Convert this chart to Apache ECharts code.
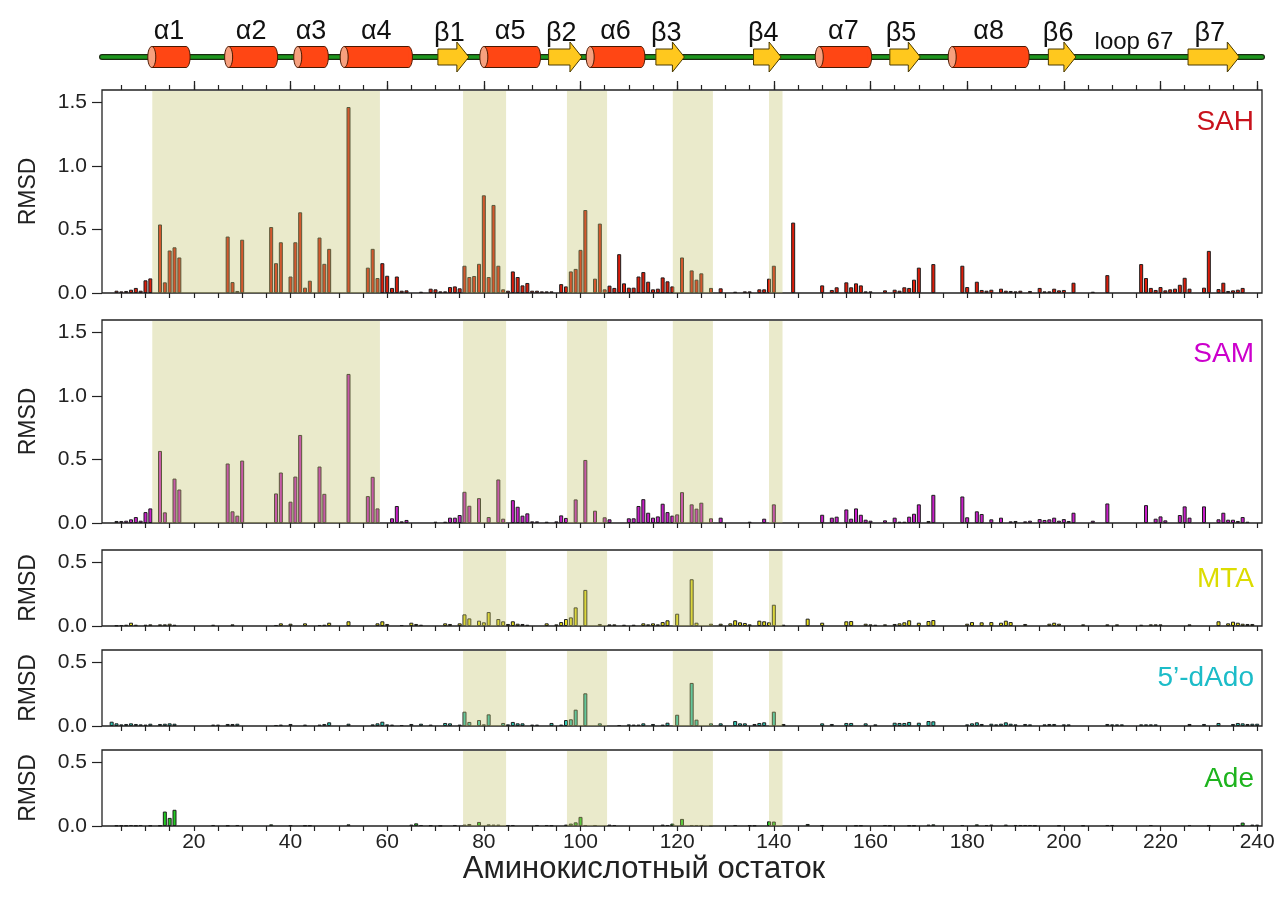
<!DOCTYPE html>
<html>
<head>
<meta charset="utf-8">
<script src="https://cdn.jsdelivr.net/npm/echarts@6/dist/echarts.min.js"></script>
<style>
  html, body { margin: 0; padding: 0; background: #fff; }
  #chart { width: 1284px; height: 905px; }
</style>
</head>
<body>
<div id="chart"></div>
<script>
// residue range shown on the x axis
const resMin = 1
const resMax = 241

// tick marks every 5 residues, labels every 20
const xTicks = [5, 10, 15, 20, 25, 30, 35, 40, 45, 50, 55, 60, 65, 70, 75, 80, 85, 90, 95, 100,
  105, 110, 115, 120, 125, 130, 135, 140, 145, 150, 155, 160, 165, 170, 175, 180, 185, 190, 195, 200,
  205, 210, 215, 220, 225, 230, 235, 240]
const xLabels = [20, 40, 60, 80, 100, 120, 140, 160, 180, 200, 220, 240]
const yTicksBig = [0, 0.5, 1.0, 1.5]
const yTicksSmall = [0, 0.5]

// shaded regions (residue ranges)
const shadeSAH = [[11.4, 58.5], [75.7, 84.6], [97.2, 105.5], [119.1, 127.4], [139, 141.8]]
const shadeOther = [[75.7, 84.6], [97.2, 105.5], [119.1, 127.4], [139, 141.8]]

// secondary structure
const backbone = [[1, 241]]
const helices = [[11.3, 18.4], [27.2, 36.5], [41.5, 47], [51.1, 64.4], [80, 90.9], [102, 112.5], [149.4, 159.4], [176.9, 192]]
const helixNames = ['α1', 'α2', 'α3', 'α4', 'α5', 'α6', 'α7', 'α8']
const strands = [[70.5, 76.9], [93.4, 100.3], [115.6, 121.5], [135.8, 141.5], [164, 170.3], [196.8, 202.5], [225.7, 236.3]]
const strandNames = ['β1', 'β2', 'β3', 'β4', 'β5', 'β6', 'β7']
const loops = [[205, 224]]
const loopNames = ['loop 67']

// RMSD per residue
const sahData = [[4,.018],[5,.013],[6,.016],[7,.026],[8,.04],[9,.018],[10,.10],[11,.115],[13,.54],[14,.084],[15,.335],[16,.36],[17,.28],
  [27,.445],[28,.086],[29,.016],[30,.42],[36,.52],[37,.235],[38,.40],[40,.13],[41,.40],[42,.636],[43,.042],[44,.097],[46,.437],[47,.23],[48,.348],
  [52,1.466],[56,.20],[57,.348],[58,.118],[59,.235],[60,.136],[61,.04],[62,.13],[63,.018],[64,.021],[67,.01],[69,.034],[70,.029],[71,.013],[72,.013],
  [73,.047],[74,.052],[75,.037],[76,.215],[77,.126],[78,.134],[79,.23],[80,.77],[81,.126],[82,.694],[83,.215],[84,.029],[85,.018],[86,.17],[87,.126],
  [88,.06],[89,.079],[90,.018],[91,.018],[92,.013],[93,.013],[94,.013],[96,.07],[97,.052],[98,.17],[99,.19],[100,.34],[101,.654],[103,.113],[104,.547],
  [105,.029],[106,.058],[107,.04],[108,.306],[109,.076],[110,.042],[111,.042],[112,.13],[113,.165],[114,.089],[115,.029],[116,.034],[117,.123],[118,.092],
  [119,.052],[121,.28],[123,.178],[124,.105],[125,.155],[127,.04],[129,.037],[132,.01],[134,.013],[135,.013],[137,.029],[138,.029],[139,.113],[140,.215],
  [144,.555],[150,.06],[152,.024],[153,.045],[155,.084],[156,.045],[157,.076],[158,.06],[159,.013],[160,.013],[163,.021],[165,.026],[166,.018],[167,.045],
  [168,.04],[169,.105],[170,.2],[173,.228],[179,.215],[180,.047],[182,.089],[183,.024],[184,.018],[185,.026],[187,.034],[188,.018],[189,.016],[190,.013],
  [191,.018],[193,.016],[195,.04],[196,.013],[197,.013],[198,.034],[199,.021],[200,.024],[202,.081],[206,.01],[209,.141],[216,.228],[217,.118],[218,.04],
  [219,.024],[220,.047],[221,.021],[222,.029],[223,.034],[224,.065],[225,.12],[226,.034],[229,.042],[230,.332],[232,.031],[233,.081],[234,.016],[235,.021],
  [236,.026],[237,.04]]

const samData = [[4,.016],[5,.016],[6,.018],[7,.029],[8,.047],[9,.018],[10,.086],[11,.115],[13,.568],[14,.084],[16,.35],[17,.264],[27,.469],[28,.092],
  [29,.058],[30,.492],[37,.233],[38,.398],[40,.168],[41,.366],[42,.694],[46,.445],[47,.23],[52,1.175],[56,.212],[57,.364],[58,.115],[61,.037],[62,.134],
  [63,.013],[64,.024],[70,.01],[72,.01],[73,.042],[74,.042],[75,.063],[76,.246],[77,.136],[79,.196],[81,.047],[83,.343],[84,.034],[86,.18],[87,.128],
  [88,.058],[89,.076],[90,.013],[91,.013],[93,.01],[95,.013],[96,.06],[97,.04],[99,.186],[101,.497],[103,.097],[105,.045],[106,.029],[110,.037],[111,.037],
  [112,.134],[113,.188],[114,.081],[115,.042],[116,.052],[117,.152],[118,.086],[119,.058],[120,.068],[121,.243],[123,.147],[124,.113],[125,.16],[127,.037],
  [129,.042],[135,.01],[138,.034],[140,.147],[150,.065],[152,.042],[153,.05],[155,.107],[156,.034],[157,.115],[158,.065],[159,.026],[160,.018],[163,.021],
  [165,.042],[166,.01],[167,.01],[168,.05],[169,.073],[170,.147],[172,.016],[173,.222],[179,.209],[180,.045],[182,.092],[183,.071],[185,.029],[187,.042],
  [189,.013],[190,.016],[192,.013],[193,.018],[195,.031],[196,.024],[197,.029],[198,.042],[199,.018],[200,.031],[201,.016],[202,.081],[206,.018],[209,.154],
  [217,.141],[219,.034],[220,.052],[221,.021],[224,.063],[225,.131],[226,.042],[229,.131],[232,.029],[233,.081],[234,.026],[235,.026],[236,.016],[237,.047],
  [238,.01]]

const mtaData = [[4,.005],[5,.008],[6,.01],[7,.026],[8,.01],[10,.01],[11,.013],[13,.013],[14,.013],[15,.018],[16,.01],[24,.01],[28,.013],[37,.008],
  [38,.021],[40,.018],[43,.021],[46,.008],[47,.01],[48,.026],[52,.037],[58,.021],[59,.037],[60,.016],[63,.008],[65,.026],[66,.016],[67,.01],[72,.021],
  [73,.016],[75,.021],[76,.092],[77,.06],[79,.042],[80,.029],[81,.11],[83,.055],[84,.037],[85,.016],[86,.037],[87,.018],[88,.016],[89,.01],[93,.021],
  [95,.013],[96,.031],[97,.055],[98,.068],[99,.147],[101,.285],[104,.016],[106,.013],[107,.013],[109,.01],[111,.01],[113,.021],[114,.013],[115,.021],
  [116,.013],[117,.031],[118,.045],[120,.097],[123,.369],[124,.026],[127,.018],[129,.018],[131,.021],[132,.045],[133,.029],[134,.024],[135,.013],[137,.042],
  [138,.037],[139,.029],[140,.168],[142,.01],[147,.058],[150,.026],[155,.037],[156,.039],[159,.018],[160,.013],[161,.01],[163,.013],[165,.016],[166,.021],
  [167,.029],[168,.045],[170,.026],[172,.039],[173,.047],[180,.018],[181,.031],[183,.029],[185,.031],[187,.026],[188,.042],[189,.031],[192,.016],[197,.018],
  [198,.026],[199,.018],[204,.013],[209,.013],[211,.013],[216,.01],[218,.013],[219,.013],[220,.013],[226,.013],[232,.037],[234,.021],[235,.034],[236,.026],
  [237,.018],[238,.016],[239,.016]]

const dadoData = [[3,.034],[4,.021],[5,.013],[6,.016],[7,.021],[8,.016],[9,.013],[10,.011],[11,.018],[13,.016],[14,.018],[15,.021],[16,.018],[24,.011],
  [25,.011],[27,.016],[28,.016],[29,.018],[37,.008],[38,.011],[40,.016],[43,.011],[46,.011],[47,.016],[48,.029],[52,.018],[57,.013],[58,.021],[59,.034],
  [60,.013],[61,.011],[63,.008],[65,.016],[67,.018],[69,.011],[72,.024],[73,.021],[75,.011],[76,.113],[77,.032],[79,.047],[80,.013],[81,.092],[84,.024],
  [85,.013],[86,.032],[87,.021],[88,.021],[90,.011],[91,.011],[94,.024],[96,.011],[97,.047],[98,.053],[99,.129],[101,.258],[104,.021],[108,.008],[110,.013],
  [111,.011],[112,.011],[113,.021],[115,.016],[117,.011],[118,.026],[120,.089],[123,.34],[124,.05],[127,.021],[129,.021],[132,.039],[133,.021],[134,.021],
  [136,.016],[137,.024],[138,.029],[140,.113],[142,.016],[150,.021],[152,.016],[155,.024],[156,.024],[159,.021],[161,.013],[165,.026],[166,.024],[167,.024],
  [168,.032],[170,.026],[172,.039],[173,.037],[180,.013],[181,.021],[182,.029],[183,.016],[185,.018],[186,.013],[187,.018],[188,.029],[189,.018],[190,.013],
  [192,.016],[193,.013],[196,.013],[197,.016],[198,.016],[200,.013],[201,.013],[209,.016],[210,.013],[211,.013],[212,.013],[216,.013],[217,.013],[218,.013],
  [219,.013],[226,.016],[229,.016],[232,.024],[235,.016],[236,.024],[237,.021],[238,.016],[239,.018],[240,.018]]

const adeData = [[4,.005],[5,.005],[6,.005],[7,.008],[8,.005],[9,.008],[11,.005],[13,.005],[14,.114],[15,.064],[16,.128],[24,.008],[27,.005],[29,.008],
  [36,.013],[40,.005],[43,.005],[44,.005],[52,.013],[65,.011],[66,.021],[67,.008],[69,.005],[71,.003],[74,.008],[76,.011],[77,.016],[79,.032],[81,.013],
  [82,.011],[83,.011],[85,.008],[86,.008],[91,.008],[93,.008],[94,.005],[97,.011],[98,.019],[99,.029],[100,.072],[101,.008],[103,.008],[106,.011],[107,.008],
  [117,.011],[118,.008],[119,.019],[121,.056],[123,.008],[124,.008],[125,.008],[127,.005],[132,.008],[135,.005],[136,.005],[139,.037],[140,.035],[147,.016],
  [150,.005],[157,.005],[158,.005],[163,.008],[164,.005],[168,.005],[169,.005],[172,.011],[173,.013],[179,.008],[182,.013],[184,.008],[185,.011],[188,.011],
  [190,.008],[191,.008],[192,.008],[193,.008],[194,.005],[199,.005],[204,.005],[209,.008],[210,.008],[218,.008],[226,.008],[230,.005],[236,.005],[237,.027],
  [239,.011],[240,.011]]

const FONT = 'Liberation Sans, Arial, sans-serif'
const INK = '#222'

const panels = [
  { name: 'SAH', data: sahData, color: '#dc1c0a', labelColor: '#c8121c', top: 90, height: 203, max: 1.6, yTicks: yTicksBig, shade: shadeSAH, nameTop: 108 },
  { name: 'SAM', data: samData, color: '#c81ec8', labelColor: '#cc00cc', top: 320, height: 203, max: 1.6, yTicks: yTicksBig, shade: shadeSAH, nameTop: 340 },
  { name: 'MTA', data: mtaData, color: '#e8e01e', labelColor: '#dcdc00', top: 550, height: 76, max: 0.6, yTicks: yTicksSmall, shade: shadeOther, nameTop: 565 },
  { name: '5’-dAdo', data: dadoData, color: '#2ec8b4', labelColor: '#1cbcc8', top: 650, height: 76, max: 0.6, yTicks: yTicksSmall, shade: shadeOther, nameTop: 664 },
  { name: 'Ade', data: adeData, color: '#22cc22', labelColor: '#1eb41e', top: 750, height: 76, max: 0.6, yTicks: yTicksSmall, shade: shadeOther, nameTop: 765 }
]
const STRUCT = panels.length

const grids = []
const xAxes = []
const yAxes = []
const series = []
const titles = []

function renderShade(params, api) {
  const a = api.coord([api.value(0), 0])
  const b = api.coord([api.value(1), 0])
  const cs = params.coordSys
  return {
    type: 'rect',
    shape: { x: a[0], y: cs.y + 1, width: b[0] - a[0], height: cs.height - 1 },
    style: { fill: 'rgba(196,196,110,0.36)' }
  }
}

panels.forEach((p, i) => {
  const last = i === panels.length - 1
  grids.push({ left: 102, width: 1160, top: p.top, height: p.height, show: true, borderColor: INK, borderWidth: 1.3, backgroundColor: 'transparent', outerBoundsMode: 'none' })
  xAxes.push({
    gridIndex: i, type: 'value', min: resMin, max: resMax, position: 'bottom',
    axisLine: { show: false }, splitLine: { show: false },
    axisTick: { show: true, length: 5, customValues: xTicks, lineStyle: { color: INK, width: 1.2 } },
    axisLabel: { show: last, customValues: xLabels, fontSize: 21, fontFamily: FONT, color: INK, margin: 6 },
    name: last ? 'Аминокислотный остаток' : '', nameLocation: 'middle', nameGap: 19,
    nameTextStyle: { fontSize: 31, fontFamily: FONT, color: INK, padding: [0, 76, 0, 0] }
  })
  yAxes.push({
    gridIndex: i, type: 'value', min: 0, max: p.max,
    axisLine: { show: false }, splitLine: { show: false },
    axisTick: { show: true, length: 10, customValues: p.yTicks, lineStyle: { color: INK, width: 1.2 } },
    axisLabel: { customValues: p.yTicks, formatter: v => v.toFixed(1), fontSize: 21, fontFamily: FONT, color: INK, margin: 15 },
    name: 'RMSD', nameLocation: 'middle', nameRotate: 90, nameGap: 62,
    nameTextStyle: { fontSize: 23, fontFamily: FONT, color: INK }
  })
  series.push({
    type: 'bar', name: p.name, xAxisIndex: i, yAxisIndex: i, data: p.data,
    barWidth: 4, z: 2,
    itemStyle: { color: p.color, borderColor: '#1e1e1e', borderWidth: 1 },
    silent: true, animation: false
  })
  series.push({
    type: 'custom', xAxisIndex: i, yAxisIndex: i, data: p.shade, z: 5,
    encode: { x: [0, 1] }, renderItem: renderShade, silent: true, animation: false
  })
  titles.push({
    text: p.name, right: 30, top: p.nameTop, padding: 0,
    textStyle: { color: p.labelColor, fontSize: 28, fontWeight: 'normal', fontFamily: FONT }
  })
})

// top ticks of the SAH panel (long every 20, short every 5)
xAxes.push({
  gridIndex: 0, type: 'value', min: resMin, max: resMax, position: 'top',
  axisLine: { show: false }, splitLine: { show: false }, axisLabel: { show: false },
  axisTick: { show: true, length: 9, customValues: xLabels, lineStyle: { color: INK, width: 1.3 } }
})
xAxes.push({
  gridIndex: 0, type: 'value', min: resMin, max: resMax, position: 'top',
  axisLine: { show: false }, splitLine: { show: false }, axisLabel: { show: false },
  axisTick: { show: true, length: 5, customValues: xTicks, lineStyle: { color: INK, width: 1.2 } }
})
const structX = xAxes.length

// secondary structure strip
grids.push({ left: 102, width: 1160, top: 27, height: 60, show: false, outerBoundsMode: 'none' })
xAxes.push({ gridIndex: STRUCT, type: 'value', min: resMin, max: resMax, show: false })
yAxes.push({ gridIndex: STRUCT, type: 'value', min: 0, max: 1, show: false })

const labelStyle = (text, size) => ({
  text: text, fill: '#111', font: size + 'px ' + FONT,
  align: 'center', verticalAlign: 'bottom', textAlign: 'center', textVerticalAlign: 'bottom'
})

function renderBackbone(params, api) {
  const a = api.coord([api.value(0), 0.5])
  const b = api.coord([api.value(1), 0.5])
  return {
    type: 'group', children: [
      { type: 'line', shape: { x1: a[0], y1: a[1], x2: b[0], y2: b[1] }, style: { stroke: '#1a2a10', lineWidth: 6, lineCap: 'round' } },
      { type: 'line', shape: { x1: a[0], y1: a[1], x2: b[0], y2: b[1] }, style: { stroke: '#1e961e', lineWidth: 3.6, lineCap: 'round' } }
    ]
  }
}

function renderHelix(params, api) {
  const a = api.coord([api.value(0), 0.5])
  const b = api.coord([api.value(1), 0.5])
  const h = 21, rx = 4, cy = a[1]
  const edge = '#4a1800'
  return {
    type: 'group', children: [
      { type: 'ellipse', shape: { cx: b[0], cy: cy, rx: rx, ry: h / 2 }, style: { fill: '#ff4614', stroke: edge, lineWidth: 1 } },
      { type: 'rect', shape: { x: a[0], y: cy - h / 2, width: b[0] - a[0], height: h }, style: { fill: '#ff4614' } },
      { type: 'line', shape: { x1: a[0], y1: cy - h / 2, x2: b[0], y2: cy - h / 2 }, style: { stroke: edge, lineWidth: 1 } },
      { type: 'line', shape: { x1: a[0], y1: cy + h / 2, x2: b[0], y2: cy + h / 2 }, style: { stroke: edge, lineWidth: 1 } },
      { type: 'ellipse', shape: { cx: a[0], cy: cy, rx: rx, ry: h / 2 }, style: { fill: '#f7a07e', stroke: edge, lineWidth: 1 } },
      { type: 'text', x: (a[0] + b[0]) / 2, y: cy - h / 2 - 1, style: labelStyle(helixNames[params.dataIndex], 27) }
    ]
  }
}

function renderStrand(params, api) {
  const a = api.coord([api.value(0), 0.5])
  const b = api.coord([api.value(1), 0.5])
  const cy = a[1], bh = 8, hh = 15, hl = 12
  const x1 = a[0], x2 = b[0], xm = x2 - hl
  return {
    type: 'group', children: [
      { type: 'polygon', shape: { points: [[x1, cy - bh], [xm, cy - bh], [xm, cy - hh], [x2, cy], [xm, cy + hh], [xm, cy + bh], [x1, cy + bh]] },
        style: { fill: '#ffc81e', stroke: '#4a3a00', lineWidth: 1 } },
      { type: 'text', x: (x1 + xm) / 2 + 2, y: cy - hh + 5, style: labelStyle(strandNames[params.dataIndex], 27) }
    ]
  }
}

function renderLoop(params, api) {
  const a = api.coord([api.value(0), 0.5])
  const b = api.coord([api.value(1), 0.5])
  return { type: 'text', x: (a[0] + b[0]) / 2, y: a[1] - 3, style: labelStyle(loopNames[params.dataIndex], 24) }
}

const structSeries = [
  { data: backbone, renderItem: renderBackbone, z: 3 },
  { data: helices, renderItem: renderHelix, z: 4 },
  { data: strands, renderItem: renderStrand, z: 4 },
  { data: loops, renderItem: renderLoop, z: 4 }
]
structSeries.forEach(s => {
  series.push(Object.assign({
    type: 'custom', xAxisIndex: structX, yAxisIndex: STRUCT, encode: { x: [0, 1] },
    clip: false, silent: true, animation: false
  }, s))
})

const chart = echarts.init(document.getElementById('chart'))
chart.setOption({
  backgroundColor: '#fff',
  animation: false,
  title: titles,
  grid: grids,
  xAxis: xAxes,
  yAxis: yAxes,
  series: series
})
window.onresize = () => chart.resize()
</script>
</body>
</html>
